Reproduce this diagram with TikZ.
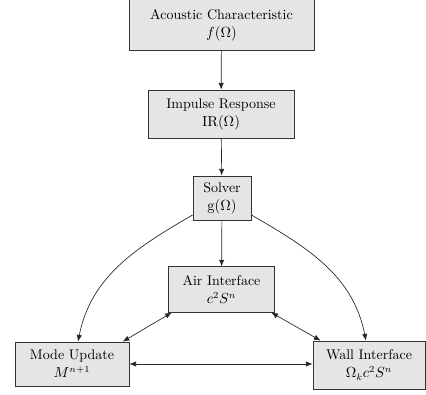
\documentclass[tikz,border=0pt]{standalone}
\usetikzlibrary{arrows.meta}
\begin{document}
\begin{tikzpicture}[x=0.75pt,y=-0.75pt,
  blk/.style={draw=black!80, fill=gray!20, align=center, inner sep=0pt, line width=0.6pt, font=\fontsize{10.5}{13.5}\selectfont},
  arr/.style={-{Latex[length=5pt,width=4pt]}, line width=0.5pt, draw=black!85},
  darr/.style={{Latex[length=5pt,width=4pt]}-{Latex[length=5pt,width=4pt]}, line width=0.5pt, draw=black!85}]
\useasboundingbox (0,0) rectangle (426,395);
\node[blk, minimum width=138.75pt, minimum height=38pt] (b1) at (221.5,25) {Acoustic Characteristic\\$f(\Omega)$};
\node[blk, minimum width=109.5pt, minimum height=36pt] (b2) at (221,114) {Impulse Response\\$\mathrm{IR}(\Omega)$};
\node[blk, minimum width=43.5pt, minimum height=33pt] (b3) at (222,198) {Solver\\$\mathrm{g}(\Omega)$};
\node[blk, minimum width=80pt, minimum height=34pt] (b4) at (221.5,289.5) {Air Interface\\$c^2S^n$};
\node[blk, minimum width=85.5pt, minimum height=33pt] (b5) at (72,364) {Mode Update\\$M^{n+1}$};
\node[blk, minimum width=84pt, minimum height=36pt] (b6) at (369,365) {Wall Interface\\$\Omega_k c^2S^n$};
\draw[arr] (b1) -- (b2);
\draw[arr] (b2) -- (b3);
\draw[arr] (b3) -- (b4);
\draw[arr] (b3.210) .. controls +(-57,33) and +(13,-65) .. (b5.75);
\draw[arr] (b3.330) .. controls +(57,33) and +(-13,-65) .. (b6.97);
\draw[darr] ([xshift=3pt]b4.south west) -- ([xshift=-5pt]b5.north east);
\draw[darr] ([xshift=-3pt]b4.south east) -- ([xshift=6pt]b6.north west);
\draw[darr] (b5.east) -- (b5.east -| b6.west);
\end{tikzpicture}
\end{document}
